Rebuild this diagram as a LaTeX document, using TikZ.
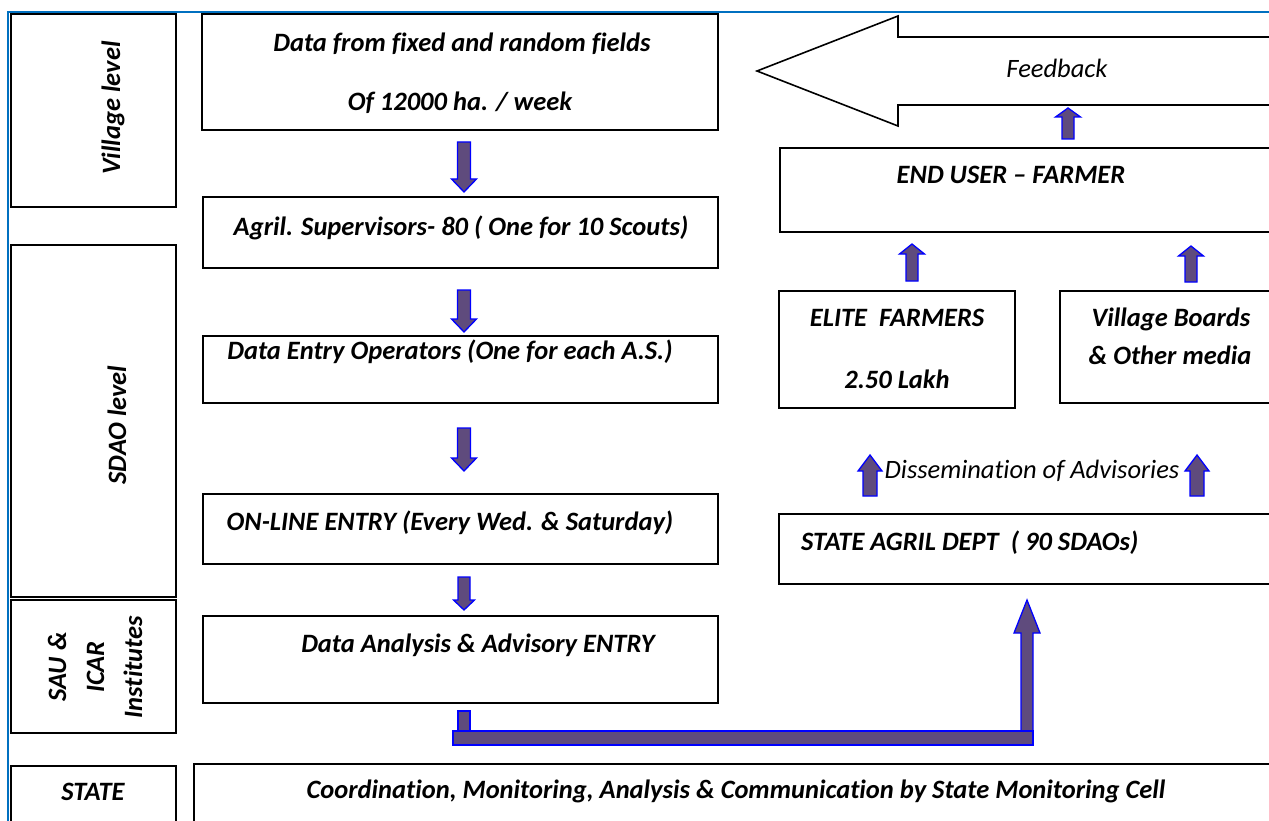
\documentclass[tikz,border=0pt]{standalone}
\usepackage{fontspec}
\setmainfont{Carlito}[Ligatures=NoCommon]
\definecolor{arrfill}{RGB}{95,75,125}
\definecolor{arrline}{RGB}{0,0,255}
\definecolor{framecol}{RGB}{0,112,192}
\newcommand{\mybox}[5]{\node[box, minimum width={(#4-#2)*1pt}, minimum height={(#5-#3)*1pt}] (#1) at (#2,#3) {};}
% cx, ytail, ytip, shaft half, head half, head length
\newcommand{\myup}[6]{\draw[barrow] ({#1-#4},#2) -- ({#1-#4},{#3+#6}) -- ({#1-#5},{#3+#6}) -- (#1,#3) -- ({#1+#5},{#3+#6}) -- ({#1+#4},{#3+#6}) -- ({#1+#4},#2) -- cycle;}
\newcommand{\mydown}[6]{\draw[barrow] ({#1-#4},#2) -- ({#1-#4},{#3-#6}) -- ({#1-#5},{#3-#6}) -- (#1,#3) -- ({#1+#5},{#3-#6}) -- ({#1+#4},{#3-#6}) -- ({#1+#4},#2) -- cycle;}
\begin{document}
\begin{tikzpicture}[x=1pt,y=-1pt,
  box/.style={draw=black, line width=1.6pt, rectangle, inner sep=0pt, outer sep=0pt, anchor=north west},
  txt/.style={font=\fontsize{26.5}{32}\selectfont\bfseries\itshape, inner sep=0pt, anchor=mid, yshift=-5pt},
  ltxt/.style={font=\fontsize{26.5}{32}\selectfont\itshape, inner sep=0pt, anchor=mid, yshift=-5pt},
  rtxt/.style={font=\fontsize{26.5}{38}\selectfont\bfseries\itshape, inner sep=0pt, rotate=90, align=center},
  barrow/.style={fill=arrfill, draw=arrline, line width=1.3pt, line join=miter}]
\useasboundingbox (0,0) rectangle (1269,821);
\clip (0,0) rectangle (1269,821);
\fill[white] (0,0) rectangle (1269,821);
% blue frame
\draw[framecol, line width=1.5pt] (8,830) -- (8,12) -- (1280,12);
% left column
\mybox{lv}{11}{14}{176}{207}
\mybox{ls}{11}{245}{176}{597}
\mybox{lsau}{11}{600}{176}{733}
\mybox{lst}{11}{766}{176}{840}
\node[rtxt] (tlv) at (113,108) {Village level};
\node[rtxt] (tls) at (117,425) {SDAO level};
\node[rtxt] (tlsau) at (95,667) {SAU \&\\ICAR\\Institutes};
\node[txt] (tlst) at (93,793) {STATE};
% middle column
\mybox{m1}{202}{14}{718}{130}
\mybox{m2}{203}{197}{718}{268}
\mybox{m3}{203}{336}{718}{403}
\mybox{m4}{203}{494}{718}{564}
\mybox{m5}{203}{616}{718}{703}
\mybox{m6}{194}{764}{1300}{840}
\node[txt] (tm1a) at (462,44) {Data from fixed and random fields};
\node[txt] (tm1b) at (460,103) {Of 12000 ha. / week};
\node[txt] (tm2) at (461,228) {Agril. Supervisors- 80 ( One for 10 Scouts)};
\node[txt] (tm3) at (450,352) {Data Entry Operators (One for each A.S.)};
\node[txt] (tm4) at (450,523) {ON-LINE ENTRY (Every Wed. \& Saturday)};
\node[txt] (tm5) at (478,645) {Data Analysis \& Advisory ENTRY};
\node[txt] (tm6) at (736,791) {Coordination, Monitoring, Analysis \& Communication by State Monitoring Cell};
% right column
\draw[black, line width=1.6pt, fill=white] (1300,37) -- (898,37) -- (898,16) -- (757,71) -- (898,126) -- (898,105) -- (1300,105) -- cycle;
\node[ltxt] (tfb) at (1057,70) {Feedback};
\mybox{r1}{780}{148}{1300}{232}
\mybox{r2}{779}{291}{1015}{408}
\mybox{r3}{1060}{291}{1300}{403}
\mybox{r4}{779}{514}{1300}{584}
\node[txt] (tr1) at (1011,176) {END USER -- FARMER};
\node[txt] (tr2a) at (897,319) {ELITE\ \ FARMERS};
\node[txt] (tr2b) at (897,381) {2.50 Lakh};
\node[txt] (tr3a) at (1171,319) {Village Boards};
\node[txt] (tr3b) at (1170,357) {\& Other media};
\node[ltxt] (tdis) at (1032,471) {Dissemination of Advisories};
\node[txt, anchor=mid west] (tr4) at (801,543) {STATE AGRIL DEPT\ \ ( 90 SDAOs)};
% block arrows, middle column
\mydown{464}{142}{192}{6.5}{12.5}{13}
\mydown{464}{290}{332}{6.5}{12.5}{13}
\mydown{464}{428}{471}{6.5}{12.5}{13}
\mydown{464}{577}{610}{6}{10.5}{10}
% block arrows, right column
\myup{1068}{139}{108}{6}{12.5}{9}
\myup{912}{281}{244}{6}{12.5}{10}
\myup{1191}{282}{246}{6}{12.5}{10}
\myup{870}{496}{455}{7}{12}{16}
\myup{1197}{496}{455}{7}{12}{16}
% elbow arrow
\draw[barrow] (458,711) rectangle (470,731);
\myup{1027}{731}{600}{6}{13}{33}
\draw[barrow] (453,731) rectangle (1033,745);
\end{tikzpicture}
\end{document}
